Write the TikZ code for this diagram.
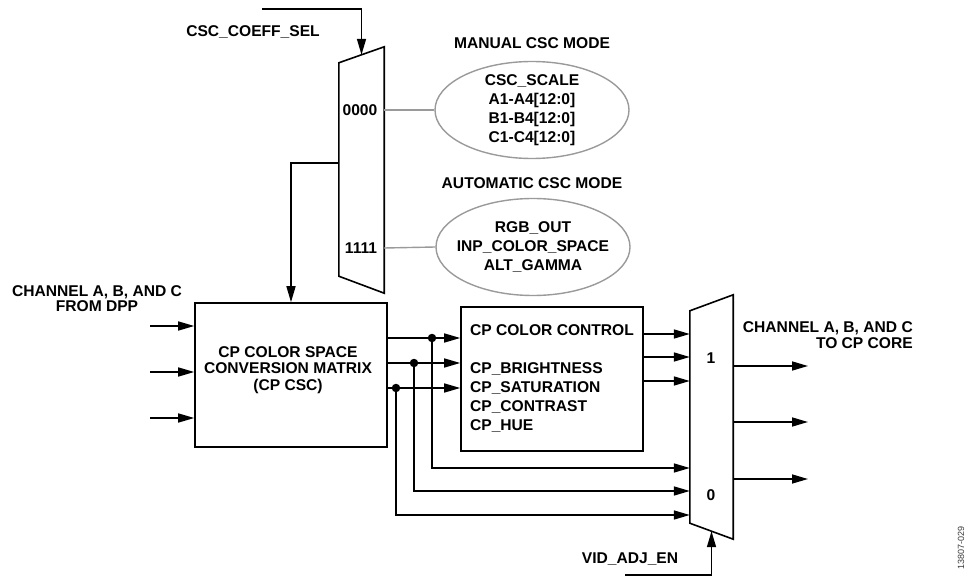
\documentclass[tikz,border=0pt]{standalone}
\usepackage{fontspec}
\setmainfont{Liberation Sans}
\usetikzlibrary{arrows.meta, positioning, shapes.geometric, calc}
\definecolor{adigray}{HTML}{9A9A9A}
\definecolor{adidark}{HTML}{3A3A3A}

\begin{document}
\begin{tikzpicture}[x=1pt, y=-1pt,
    lbl/.style={font=\fontsize{15.6}{19}\selectfont\bfseries, inner sep=0pt, align=center},
    blockbox/.style={draw, line width=1.6pt, inner sep=0pt, lbl},
    muxframe/.style={line width=1.6pt, line join=miter},
    sigarrow/.style={line width=1.6pt, -{Triangle[length=16pt, width=9pt]}},
    modelink/.style={draw=adigray, line width=1.4pt},
    modeell/.style={ellipse, draw=adigray, line width=1.4pt,
                    minimum width=194pt, minimum height=97pt, inner sep=0pt},
    tap/.style={circle, fill, inner sep=0pt, minimum size=8.5pt},
]
    \useasboundingbox (0,0) rectangle (974,577);

    % Coefficient select mux
    \node[minimum width=45pt, minimum height=246pt, inner sep=0pt] (cmux) at (361.5,170) {};
    \draw[muxframe] ([yshift=-16pt]cmux.north west) -- (cmux.north east)
        -- (cmux.south east) -- ([yshift=17pt]cmux.south west) -- cycle;
    \node[lbl] (c0) at (360,110) {0000};
    \node[lbl] (c1) at (361,248) {1111};
    \node[lbl] (sellbl) at (253,32) {CSC\_COEFF\_SEL};
    \coordinate (selsrc) at (262,9);
    \draw[sigarrow] (selsrc) -| ([yshift=-8pt]cmux.north);

    % Coefficient modes
    \node[lbl] (manlbl) at (532,43) {MANUAL CSC MODE};
    \node[modeell] (manual) at (532,110) {};
    \node[lbl] (mantxt) at (manual) {CSC\_SCALE\\A1-A4[12:0]\\B1-B4[12:0]\\C1-C4[12:0]};
    \node[lbl] (autolbl) at (532,183) {AUTOMATIC CSC MODE};
    \node[modeell] (auto) at (533,247) {};
    \node[lbl] (autotxt) at (auto) {RGB\_OUT\\INP\_COLOR\_SPACE\\ALT\_GAMMA};
    \draw[modelink] (c0 -| cmux.east) -- (manual.west);
    \draw[modelink] (c1 -| cmux.east) -- (auto.west);

    % Conversion matrix
    \node[blockbox, minimum width=192pt, minimum height=144pt] (csc) at (291,375) {};
    \node[lbl, font=\fontsize{15.6}{16.7}\selectfont\bfseries] (csctxt) at (288,370)
        {CP COLOR SPACE\\CONVERSION MATRIX\\(CP CSC)};
    \draw[sigarrow] ([yshift=7pt]cmux.west) -| (csc.north);
    \node[lbl, font=\fontsize{15.6}{15.5}\selectfont\bfseries] (inlbl) at (97,298.5)
        {CHANNEL A, B, AND C\\FROM DPP};
    \foreach \y [count=\i] in {326,372,418} {
        \coordinate (in\i) at (150,\y);
        \draw[sigarrow] (in\i) -- (in\i -| csc.west);
    }

    % Color control
    \node[blockbox, minimum width=182pt, minimum height=144pt, align=left] (ctrl) at (552,379)
        {CP COLOR CONTROL\\[19pt]CP\_BRIGHTNESS\\CP\_SATURATION\\CP\_CONTRAST\\CP\_HUE};
    \foreach \y [count=\i] in {338,363,388} {
        \coordinate (cs\i) at (csc.east |- 0,\y);
        \draw[sigarrow] (cs\i) -- (cs\i -| ctrl.west);
    }

    % Output mux
    \node[minimum width=43pt, minimum height=244pt, inner sep=0pt] (rmux) at (711.5,417) {};
    \draw[muxframe] ([yshift=-16pt]rmux.north west) -- (rmux.north east)
        -- (rmux.south east) -- ([yshift=16pt]rmux.south west) -- cycle;
    \node[lbl] (r1) at (711,358) {1};
    \node[lbl] (r0) at (711,495) {0};
    \foreach \y in {334,357,381} {
        \draw[sigarrow] (ctrl.east |- 0,\y) -- (rmux.west |- 0,\y);
    }

    % Bypass taps
    \foreach \x/\y [count=\i] in {432/468, 414/491, 396/515} {
        \node[tap] (tap\i) at (cs\i -| \x,0) {};
        \draw[sigarrow] (tap\i.center) |- (rmux.west |- 0,\y);
    }

    % Outputs
    \foreach \y [count=\i] in {366,422,479} {
        \coordinate (out\i) at (808,\y);
        \draw[sigarrow] (rmux.east |- out\i) -- (out\i);
    }
    \node[lbl, align=right, anchor=east, font=\fontsize{15.6}{15.7}\selectfont\bfseries] (outlbl)
        at (913,335) {CHANNEL A, B, AND C\\TO CP CORE};

    % Enable
    \node[lbl] (enlbl) at (630,559) {VID\_ADJ\_EN};
    \coordinate (ensrc) at (625,575);
    \draw[sigarrow] (ensrc) -| ([yshift=8pt]rmux.south);

    \node[rotate=90, font=\fontsize{9}{10}\selectfont, text=adidark, inner sep=0pt] (figid)
        at (961,548) {13807-029};
\end{tikzpicture}
\end{document}
